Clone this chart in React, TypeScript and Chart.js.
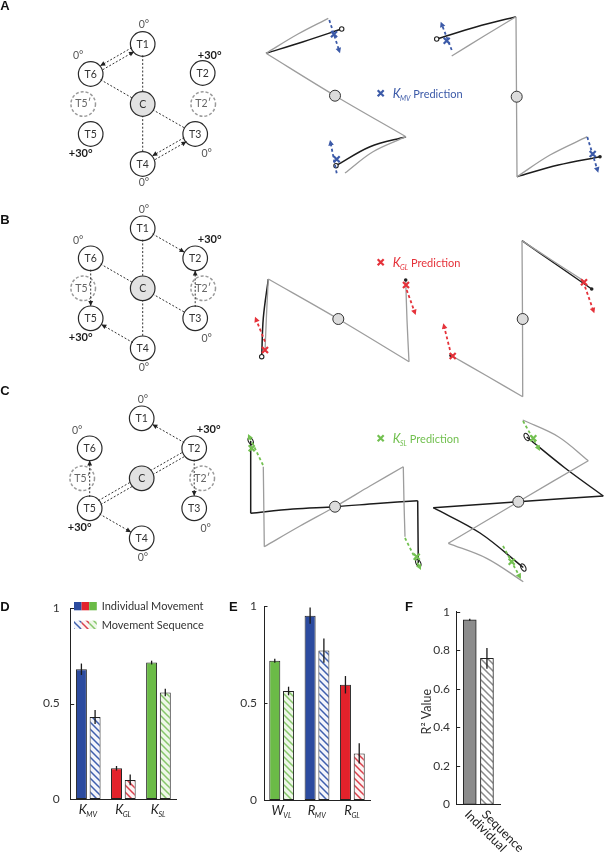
import React, { useEffect, useRef } from 'react';
import { Chart, registerables } from 'chart.js';

Chart.register(...registerables);

type Pt = [number, number];

// ================= Panels D, E, F (bar data) =================
const dLetters = ['K', 'K', 'K'];
const dSubs = ['MV', 'GL', 'SL'];
const dIndividual = [0.68, 0.161, 0.715];
const dIndividualErr = [0.03, 0.012, 0.01];
const dSequence = [0.43, 0.1, 0.558];
const dSequenceErr = [0.037, 0.028, 0.02];

const eLetters = ['W', 'R', 'R'];
const eSubs = ['VL', 'MV', 'GL'];
const eIndividual = [0.718, 0.95, 0.594];
const eIndividualErr = [0.01, 0.042, 0.045];
const eSequence = [0.562, 0.77, 0.24];
const eSequenceErr = [0.022, 0.062, 0.052];

const fLabels = ['Individual', 'Sequence'];
const fValues = [0.958, 0.758];
const fErr = [0.005, 0.054];

const deTicks = [0, 0.5, 1];
const fTicks = [0, 0.2, 0.4, 0.6, 0.8, 1];

const legendLabels = ['Individual Movement', 'Movement Sequence'];

// ================= Panels A–C (diagram data, figure units, y downward) =================
const diagramCentres: Pt[] = [[142.7, 104], [142.7, 288.3], [141.7, 478.3]];
const targetIds = ['T1', 'T2', 'T3', 'T4', 'T5', 'T6'];
const targetDx = [0, 52.5, 52.5, 0, -52, -52];
const targetDy = [-60, -30, 30, 60, 30, -30];
const panelAT2Shift: Pt = [7.5, -1];
const ghostIds = ['T5′', 'T2′'];
const ghostDx = [-59.5, 60.5];
const targetRadius = 12.3;
const degreeText = ['0°', '0°', '+30°', '+30°', '0°', '0°'];
const degreeDx = [1.3, -64.5, 67, -62, 64, 1.3];
const degreeDy = [-79, -48, -48.5, 49.5, 50, 79];

const linksA: [string, string, string][] = [
  ['T1', 'C', 'dot'], ['C', 'T4', 'dot'], ['T6', 'C', 'dot'], ['C', 'T3', 'dot'],
  ['T1', 'T6', 'double'], ['T3', 'T4', 'double'],
];
const linksB: [string, string, string][] = [
  ['T1', 'C', 'dot'], ['C', 'T4', 'dot'], ['T6', 'C', 'dot'], ['C', 'T3', 'dot'],
  ['T1', 'T2', 'arrow'], ['T3', 'T2', 'arrow'], ['T6', 'T5', 'arrow'], ['T4', 'T5', 'arrow'],
];
const linksC: [string, string, string][] = [
  ['T5', 'C', 'twin'], ['C', 'T2', 'twin'],
  ['T2', 'T1', 'arrow'], ['T2', 'T3', 'arrow'], ['T5', 'T6', 'arrow'], ['T5', 'T4', 'arrow'],
];
const panelLinks = [linksA, linksB, linksC];

// trajectories (hand-path samples)
const greyPaths: Pt[][] = [
  // row A
  [[266, 53.3], [335, 95.7], [406, 136.7]],
  [[266, 53.3], [298, 34], [328.3, 18.3]],
  [[406, 136.7], [373, 151.7], [345, 173]],
  [[516, 16.7], [516.5, 96.7], [517, 176.7]],
  [[516, 16.7], [483.7, 36.3], [451.7, 56]],
  [[517, 176.7], [550, 155], [587.3, 136.7]],
  // row B
  [[268.3, 279], [338.3, 319], [409, 361.7]],
  [[268.3, 279], [266.5, 315], [265, 351.7]],
  [[409, 361.7], [407, 320], [405.7, 280]],
  [[522, 240.7], [522.5, 319], [522.7, 396.7]],
  [[522, 240.7], [553, 261], [584, 281]],
  [[522.7, 396.7], [487, 376], [451.7, 355.7]],
  // row C
  [[263.3, 466.7], [263.8, 507], [264.3, 546.7]],
  [[264.3, 546.7], [300, 526], [335, 506.7], [370, 486], [403.3, 466.7]],
  [[403.3, 466.7], [404, 502], [405, 536.7]],
  [[522.7, 420], [558.3, 436.7], [588.3, 460.7]],
  [[588.3, 460.7], [518.3, 501.7], [448.3, 543.3]],
  [[448.3, 543.3], [486.7, 558.3], [523.3, 581.7]],
];
const blackPaths: Pt[][] = [
  // row A
  [[266, 53.3], [303.3, 41.7], [341.7, 29]],
  [[406, 136.7], [370, 146.7], [336, 165.7]],
  [[516, 16.7], [476.7, 26.7], [436.7, 39]],
  [[517, 176.7], [558.3, 165], [600, 156.7]],
  // row B
  [[268.3, 279], [263.3, 318], [261.7, 356.7]],
  [[522, 240.7], [557, 265], [591.7, 289]],
  // row C
  [[250.7, 441], [250.7, 477], [250.7, 513.3]],
  [[250.7, 513.3], [293, 509], [335, 506.7], [377, 503.5], [417.7, 500.7]],
  [[417.7, 500.7], [418, 532], [418.3, 563]],
  [[603.3, 496], [565, 468], [526.7, 437]],
  [[603.3, 496], [518.3, 501.7], [433.3, 507.7]],
  [[433.3, 507.7], [480, 533], [523.3, 567.5]],
];
const trajCentres: Pt[] = [[335, 95.7], [516.7, 96.7], [338.3, 319], [522.7, 319], [335, 506.7], [518.3, 501.7]];
const openEnds: Pt[] = [[341.7, 29], [336, 165.7], [436.7, 39], [261.7, 356.7]];
const ellipseEnds: Pt[] = [[250.7, 441], [418.3, 563], [526.7, 437], [523.3, 567.5]];
const filledEnds: Pt[] = [[600, 156.7], [591.7, 289], [451, 355.5], [405.7, 280]];

const blueArrows: Pt[][] = [[[329.3, 20], [340, 53.3]], [[336.7, 173.3], [330, 140]], [[451.7, 50], [440.7, 21.7]], [[587.3, 137], [598.3, 172.7]]];
const blueCrosses: Pt[] = [[334, 34.3], [336.7, 159.3], [446.7, 40.7], [592.7, 154]];
const redArrows: Pt[][] = [[[265, 341.7], [255, 316.7]], [[406.7, 290], [415.7, 315]], [[585, 286.7], [594.3, 313.3]], [[450, 350], [443.3, 323.3]]];
const redCrosses: Pt[] = [[265, 350], [406, 285], [584, 282.3], [452.7, 356]];
const greenArrows: Pt[][] = [[[263, 465], [248, 434]], [[405, 538], [421, 570]], [[523, 421], [540, 451]], [[503, 546], [521, 579]]];
const greenCrosses: Pt[] = [[251.7, 448.3], [416.7, 556.7], [533.3, 438.3], [511.7, 561.7]];

const predictionSubs = ['MV', 'GL', 'SL'];
const predictionAnchors: Pt[] = [[380.7, 93.3], [380.7, 262.3], [380.7, 438.3]];

const panelLetterTop = ['A', 'B', 'C'];
const panelLetterTopPos: Pt[] = [[5, 6], [5, 220], [5, 391]];

// ================= Styles =================
const FONT = 'Lato, "Open Sans", sans-serif';
const LETTER_FONT = 'bold 13px "Liberation Sans", Arial, sans-serif';
const BLUE = '#2c4b9f';
const RED = '#e3222b';
const GREEN = '#6bbb47';
const GREY = '#8c8c8c';
const PRED_BLUE = '#3c5aa8';
const PRED_RED = '#e5323a';
const PRED_GREEN = '#72c050';

const hatchStroke: Record<string, string> = { [BLUE]: '#3f5fae', [RED]: '#d9404c', [GREEN]: '#86c66a', [GREY]: '#8a8a8a' };
const hatchBg: Record<string, string> = { [BLUE]: '#f3f5fb', [RED]: '#fdf3f3', [GREEN]: '#eef7e8', [GREY]: '#ffffff' };

function hatch(color: string): CanvasPattern {
  const s = 7;
  const c = document.createElement('canvas');
  c.width = s;
  c.height = s;
  const g = c.getContext('2d')!;
  g.fillStyle = hatchBg[color];
  g.fillRect(0, 0, s, s);
  g.strokeStyle = hatchStroke[color];
  g.lineWidth = 1.5;
  g.beginPath();
  g.moveTo(-2, -2); g.lineTo(s + 2, s + 2);
  g.moveTo(-2, s - 2); g.lineTo(2, s + 2);
  g.moveTo(s - 2, -2); g.lineTo(s + 2, 2);
  g.stroke();
  return g.createPattern(c, 'repeat')!;
}

function drawSubText(ctx: CanvasRenderingContext2D, x: number, y: number, main: string, sub: string, color: string, size: number, align: string) {
  ctx.save();
  ctx.font = `italic ${size}px ${FONT}`;
  const wm = ctx.measureText(main).width;
  const subSize = size * 0.56;
  ctx.font = `italic ${subSize}px ${FONT}`;
  const ws = ctx.measureText(sub).width;
  const x0 = align === 'center' ? x - (wm + ws) / 2 : x;
  ctx.fillStyle = color;
  ctx.textAlign = 'left';
  ctx.textBaseline = 'alphabetic';
  ctx.font = `italic ${size}px ${FONT}`;
  ctx.fillText(main, x0, y);
  ctx.font = `italic ${subSize}px ${FONT}`;
  ctx.fillText(sub, x0 + wm - 0.5, y + size * 0.22);
  ctx.restore();
  return x0 + wm + ws;
}

function drawCross(ctx: CanvasRenderingContext2D, x: number, y: number, color: string, s = 3) {
  ctx.save();
  ctx.strokeStyle = color;
  ctx.lineWidth = 2.2;
  ctx.setLineDash([]);
  ctx.beginPath();
  ctx.moveTo(x - s, y - s); ctx.lineTo(x + s, y + s);
  ctx.moveTo(x - s, y + s); ctx.lineTo(x + s, y - s);
  ctx.stroke();
  ctx.restore();
}

function arrowHead(ctx: CanvasRenderingContext2D, tx: number, ty: number, ux: number, uy: number, color: string, len = 5, half = 2.4) {
  const nx = -uy, ny = ux;
  ctx.save();
  ctx.setLineDash([]);
  ctx.fillStyle = color;
  ctx.beginPath();
  ctx.moveTo(tx, ty);
  ctx.lineTo(tx - ux * len + nx * half, ty - uy * len + ny * half);
  ctx.lineTo(tx - ux * len - nx * half, ty - uy * len - ny * half);
  ctx.closePath();
  ctx.fill();
  ctx.restore();
}

// ================= Top diagram plugin =================
const diagramPlugin = {
  id: 'diagram',
  afterDatasetsDraw(chart: any) {
    const ctx: CanvasRenderingContext2D = chart.ctx;
    const sx = chart.scales.x, sy = chart.scales.y;
    const P = (p: Pt): Pt => [sx.getPixelForValue(p[0]), sy.getPixelForValue(p[1])];
    const L = (d: number) => Math.abs(sx.getPixelForValue(d) - sx.getPixelForValue(0));
    const r = L(targetRadius);

    diagramCentres.forEach((c, k) => {
      const pos: Record<string, Pt> = { C: c };
      targetIds.forEach((id, i) => { pos[id] = [c[0] + targetDx[i], c[1] + targetDy[i]]; });
      if (k === 0) pos.T2 = [pos.T2[0] + panelAT2Shift[0], pos.T2[1] + panelAT2Shift[1]];
      ghostIds.forEach((id, i) => { pos[id] = [c[0] + ghostDx[i], c[1]]; });

      // ghost targets
      ghostIds.forEach((id) => {
        const [px, py] = P(pos[id]);
        ctx.save();
        ctx.setLineDash([3, 2]);
        ctx.strokeStyle = '#9a9a9a';
        ctx.lineWidth = 1.5;
        ctx.beginPath();
        ctx.arc(px, py, r, 0, Math.PI * 2);
        ctx.stroke();
        ctx.setLineDash([]);
        ctx.fillStyle = '#666';
        ctx.font = `10.5px ${FONT}`;
        ctx.textAlign = 'center';
        ctx.textBaseline = 'middle';
        ctx.fillText(id, px, py);
        ctx.restore();
      });

      // links
      panelLinks[k].forEach(([a, b, kind]) => {
        const [ax, ay] = P(pos[a]);
        const [bx, by] = P(pos[b]);
        const dx = bx - ax, dy = by - ay, len = Math.hypot(dx, dy);
        const ux = dx / len, uy = dy / len, nx = -uy, ny = ux;
        const sxp = ax + ux * r * 0.92, syp = ay + uy * r * 0.92;
        const exp = bx - ux * r, eyp = by - uy * r;
        ctx.save();
        ctx.strokeStyle = '#333';
        ctx.lineWidth = 1;
        ctx.setLineDash([2, 1.8]);
        const seg = (x1: number, y1: number, x2: number, y2: number) => {
          ctx.beginPath(); ctx.moveTo(x1, y1); ctx.lineTo(x2, y2); ctx.stroke();
        };
        if (kind === 'dot' || kind === 'arrow') {
          seg(sxp, syp, exp, eyp);
          if (kind === 'arrow') arrowHead(ctx, exp, eyp, ux, uy, '#222');
        } else {
          const o = 2.3;
          seg(sxp + nx * o, syp + ny * o, exp + nx * o, eyp + ny * o);
          seg(sxp - nx * o, syp - ny * o, exp - nx * o, eyp - ny * o);
          if (kind === 'double') {
            arrowHead(ctx, exp + nx * o, eyp + ny * o, ux, uy, '#222');
            arrowHead(ctx, sxp - nx * o, syp - ny * o, -ux, -uy, '#222');
          }
        }
        ctx.restore();
      });

      // targets
      ['C', ...targetIds].forEach((id) => {
        const [px, py] = P(pos[id]);
        ctx.save();
        ctx.setLineDash([]);
        ctx.fillStyle = id === 'C' ? '#e2e2e2' : 'rgba(255,255,255,0)';
        ctx.strokeStyle = '#2a2a2a';
        ctx.lineWidth = 1.2;
        ctx.beginPath();
        ctx.arc(px, py, r, 0, Math.PI * 2);
        ctx.fill();
        ctx.stroke();
        ctx.fillStyle = '#333';
        ctx.font = `10.5px ${FONT}`;
        ctx.textAlign = 'center';
        ctx.textBaseline = 'middle';
        ctx.fillText(id, px, py + 0.5);
        ctx.restore();
      });

      // degree labels
      degreeText.forEach((t, i) => {
        const [px, py] = P([c[0] + degreeDx[i], c[1] + degreeDy[i]]);
        const bold = t.startsWith('+');
        ctx.save();
        ctx.fillStyle = bold ? '#1a1a1a' : '#555';
        ctx.font = bold ? `bold 11px ${FONT}` : `10.5px ${FONT}`;
        ctx.textAlign = 'center';
        ctx.textBaseline = 'middle';
        ctx.fillText(t, px, py);
        ctx.restore();
      });
    });

    // trajectory centres
    trajCentres.forEach((p) => {
      const [px, py] = P(p);
      ctx.save();
      ctx.fillStyle = '#dcdcdc';
      ctx.strokeStyle = '#333';
      ctx.lineWidth = 1;
      ctx.beginPath();
      ctx.arc(px, py, L(5.5), 0, Math.PI * 2);
      ctx.fill();
      ctx.stroke();
      ctx.restore();
    });
    openEnds.forEach((p) => {
      const [px, py] = P(p);
      ctx.save();
      ctx.strokeStyle = '#222';
      ctx.fillStyle = '#fff';
      ctx.lineWidth = 1.1;
      ctx.beginPath();
      ctx.arc(px, py, L(2.2), 0, Math.PI * 2);
      ctx.fill();
      ctx.stroke();
      ctx.restore();
    });
    ellipseEnds.forEach((p) => {
      const [px, py] = P(p);
      ctx.save();
      ctx.strokeStyle = '#222';
      ctx.lineWidth = 1.1;
      ctx.beginPath();
      ctx.ellipse(px, py, L(2.3), L(4), -0.5, 0, Math.PI * 2);
      ctx.stroke();
      ctx.restore();
    });
    filledEnds.forEach((p) => {
      const [px, py] = P(p);
      ctx.save();
      ctx.fillStyle = '#222';
      ctx.beginPath();
      ctx.arc(px, py, L(1.8), 0, Math.PI * 2);
      ctx.fill();
      ctx.restore();
    });

    const drawPred = (arrows: Pt[][], crosses: Pt[], color: string) => {
      arrows.forEach(([a, b]) => {
        const [ax, ay] = P(a);
        const [bx, by] = P(b);
        const len = Math.hypot(bx - ax, by - ay);
        const ux = (bx - ax) / len, uy = (by - ay) / len;
        ctx.save();
        ctx.strokeStyle = color;
        ctx.lineWidth = 1.8;
        ctx.setLineDash([3, 2.5]);
        ctx.beginPath();
        ctx.moveTo(ax, ay);
        ctx.lineTo(bx - ux * 3, by - uy * 3);
        ctx.stroke();
        ctx.restore();
        arrowHead(ctx, bx, by, ux, uy, color, 5.5, 2.8);
      });
      crosses.forEach((p) => {
        const [px, py] = P(p);
        drawCross(ctx, px, py, color, 3);
      });
    };
    drawPred(blueArrows, blueCrosses, PRED_BLUE);
    drawPred(redArrows, redCrosses, PRED_RED);
    drawPred(greenArrows, greenCrosses, PRED_GREEN);

    // prediction legends
    const predColors = [PRED_BLUE, PRED_RED, PRED_GREEN];
    predictionAnchors.forEach((a, i) => {
      const [px, py] = P(a);
      drawCross(ctx, px, py, predColors[i], 3);
      const end = drawSubText(ctx, px + 12, py + 4.5, 'K', predictionSubs[i], predColors[i], 12.5, 'left');
      ctx.save();
      ctx.fillStyle = predColors[i];
      ctx.font = `11px ${FONT}`;
      ctx.textAlign = 'left';
      ctx.textBaseline = 'alphabetic';
      ctx.fillText('Prediction', end + 2.5, py + 4.5);
      ctx.restore();
    });

    // panel letters
    panelLetterTop.forEach((t, i) => {
      const [px, py] = P(panelLetterTopPos[i]);
      ctx.save();
      ctx.fillStyle = '#111';
      ctx.font = LETTER_FONT;
      ctx.textAlign = 'center';
      ctx.textBaseline = 'middle';
      ctx.fillText(t, px, py);
      ctx.restore();
    });
  },
};

function buildTop(): any {
  const lineDs = (pts: Pt[], color: string, width: number) => ({
    data: pts.map(([x, y]) => ({ x, y })),
    showLine: true,
    borderColor: color,
    borderWidth: width,
    pointRadius: 0,
    tension: 0.35,
    fill: false,
  });
  return {
    type: 'scatter',
    data: {
      datasets: [
        ...greyPaths.map((p) => lineDs(p, '#9d9d9d', 1.3)),
        ...blackPaths.map((p) => lineDs(p, '#1c1c1c', 1.5)),
      ],
    },
    options: {
      animation: false,
      responsive: false,
      devicePixelRatio: 1,
      events: [],
      layout: { padding: 0 },
      plugins: { legend: { display: false }, tooltip: { enabled: false } },
      scales: {
        x: { type: 'linear', display: false, min: 0, max: 604 },
        y: { type: 'linear', display: false, min: 0, max: 590, reverse: true },
      },
    },
    plugins: [diagramPlugin],
  };
}

// ================= Bar chart helpers =================
const errorBars = {
  id: 'errorBars',
  afterDatasetsDraw(chart: any) {
    const ctx: CanvasRenderingContext2D = chart.ctx;
    const ys = chart.scales.y;
    chart.data.datasets.forEach((ds: any, i: number) => {
      if (!ds.errors) return;
      const meta = chart.getDatasetMeta(i);
      meta.data.forEach((bar: any, j: number) => {
        const raw = ds.data[j];
        const v = typeof raw === 'number' ? raw : raw.y;
        const e = ds.errors[j];
        ctx.save();
        ctx.strokeStyle = '#1a1a1a';
        ctx.lineWidth = 1.3;
        ctx.beginPath();
        ctx.moveTo(bar.x, ys.getPixelForValue(v + e));
        ctx.lineTo(bar.x, ys.getPixelForValue(v - e));
        ctx.stroke();
        ctx.restore();
      });
    });
  },
};

const innerTicks = {
  id: 'innerTicks',
  afterDraw(chart: any) {
    const ctx: CanvasRenderingContext2D = chart.ctx;
    const ys = chart.scales.y;
    const left = chart.chartArea.left;
    ctx.save();
    ctx.strokeStyle = '#222';
    ctx.lineWidth = 1;
    ys.ticks.forEach((t: any) => {
      const py = Math.round(ys.getPixelForValue(t.value)) + 0.5;
      ctx.beginPath();
      ctx.moveTo(left, py);
      ctx.lineTo(left + 3.5, py);
      ctx.stroke();
    });
    ctx.restore();
  },
};

function letterPlugin(letter: string, x: number, y: number) {
  return {
    id: 'letter' + letter,
    afterDraw(chart: any) {
      const ctx: CanvasRenderingContext2D = chart.ctx;
      ctx.save();
      ctx.fillStyle = '#111';
      ctx.font = LETTER_FONT;
      ctx.textAlign = 'center';
      ctx.textBaseline = 'middle';
      ctx.fillText(letter, x, y);
      ctx.restore();
    },
  };
}

function catLabelPlugin(letters: string[], subs: string[]) {
  return {
    id: 'catLabels',
    afterDraw(chart: any) {
      const ctx: CanvasRenderingContext2D = chart.ctx;
      const xs = chart.scales.x;
      const b = chart.chartArea.bottom;
      letters.forEach((l, i) => {
        drawSubText(ctx, xs.getPixelForValue(i), b + 15, l, subs[i], '#222', 13, 'center');
      });
    },
  };
}

function groupedBarConfig(o: any): any {
  return {
    type: 'bar',
    data: {
      labels: o.subs,
      datasets: [
        {
          label: legendLabels[0], data: o.individual, errors: o.individualErr,
          backgroundColor: o.colors, borderColor: '#222', borderWidth: 1, borderSkipped: false,
          categoryPercentage: 0.78, barPercentage: 0.8,
        },
        {
          label: legendLabels[1], data: o.sequence, errors: o.sequenceErr,
          backgroundColor: o.colors.map((c: string) => hatch(c)), borderColor: '#222', borderWidth: 1, borderSkipped: false,
          categoryPercentage: 0.78, barPercentage: 0.8,
        },
      ],
    },
    options: {
      animation: false,
      responsive: false,
      devicePixelRatio: 1,
      events: [],
      layout: { padding: { top: o.padTop, right: o.padRight, left: 0, bottom: 0 } },
      plugins: { legend: { display: false }, tooltip: { enabled: false } },
      scales: {
        x: {
          grid: { display: false, drawTicks: false },
          border: { display: true, color: '#222', width: 1 },
          ticks: { display: false },
          afterFit: (s: any) => { s.height = o.xHeight; },
        },
        y: {
          min: 0, max: 1,
          afterBuildTicks: (s: any) => { s.ticks = deTicks.map((v) => ({ value: v })); },
          grid: { display: false, drawTicks: false },
          border: { display: true, color: '#222', width: 1 },
          ticks: { padding: o.tickPad, color: '#333', font: { family: FONT, size: 12 }, callback: (v: any) => String(v) },
          afterFit: (s: any) => { s.width = o.yWidth; },
        },
      },
    },
    plugins: [errorBars, innerTicks, catLabelPlugin(o.letters, o.subs), letterPlugin(o.letter, o.letterX, o.letterY), ...(o.extra || [])],
  };
}

const legendPlugin = {
  id: 'dLegend',
  afterDraw(chart: any) {
    const ctx: CanvasRenderingContext2D = chart.ctx;
    const colors = [BLUE, RED, GREEN];
    const rows = [12, 30.7];
    rows.forEach((ry, row) => {
      colors.forEach((c, i) => {
        ctx.save();
        ctx.fillStyle = row === 0 ? c : hatch(c);
        ctx.fillRect(74 + i * 7.6, ry, 7.6, 8.3);
        ctx.restore();
      });
      ctx.save();
      ctx.fillStyle = '#333';
      ctx.font = `11px ${FONT}`;
      ctx.textAlign = 'left';
      ctx.textBaseline = 'middle';
      ctx.fillText(legendLabels[row], 101.7, ry + 4.6);
      ctx.restore();
    });
  },
};

function buildD(): any {
  return groupedBarConfig({
    subs: dSubs, letters: dLetters, individual: dIndividual, individualErr: dIndividualErr,
    sequence: dSequence, sequenceErr: dSequenceErr, colors: [BLUE, RED, GREEN],
    padTop: 15, padRight: 39, xHeight: 53, yWidth: 70.7, tickPad: 11,
    letter: 'D', letterX: 5, letterY: 17, extra: [legendPlugin],
  });
}

function buildE(): any {
  return groupedBarConfig({
    subs: eSubs, letters: eLetters, individual: eIndividual, individualErr: eIndividualErr,
    sequence: eSequence, sequenceErr: eSequenceErr, colors: [GREEN, BLUE, RED],
    padTop: 16, padRight: 35, xHeight: 52, yWidth: 49, tickPad: 7,
    letter: 'E', letterX: 18.3, letterY: 17,
  });
}

const fExtras = {
  id: 'fExtras',
  afterDraw(chart: any) {
    const ctx: CanvasRenderingContext2D = chart.ctx;
    const xs = chart.scales.x;
    const b = chart.chartArea.bottom;
    fLabels.forEach((t, i) => {
      const x = xs.getPixelForValue(i);
      ctx.save();
      ctx.translate(x - 3, b + 8);
      ctx.rotate(Math.PI / 4);
      ctx.font = `12.5px ${FONT}`;
      ctx.fillStyle = '#222';
      ctx.textAlign = 'left';
      ctx.textBaseline = 'middle';
      ctx.fillText(t, 0, 0);
      ctx.restore();
    });
    ctx.save();
    ctx.translate(22, 121.7);
    ctx.rotate(-Math.PI / 2);
    ctx.font = `12.5px ${FONT}`;
    ctx.fillStyle = '#333';
    ctx.textAlign = 'center';
    ctx.textBaseline = 'middle';
    ctx.fillText('R² Value', 0, 0);
    ctx.restore();
  },
};

function buildF(): any {
  return {
    type: 'bar',
    data: {
      datasets: [
        {
          data: fValues.map((v, i) => ({ x: i, y: v })),
          errors: fErr,
          backgroundColor: [GREY, hatch(GREY)],
          borderColor: '#222', borderWidth: 1, borderSkipped: false,
          barThickness: 13,
        },
      ],
    },
    options: {
      animation: false,
      responsive: false,
      devicePixelRatio: 1,
      events: [],
      layout: { padding: { top: 21.7, right: 104, left: 0, bottom: 0 } },
      plugins: { legend: { display: false }, tooltip: { enabled: false } },
      scales: {
        x: {
          type: 'linear', min: -0.76, max: 1.76, offset: false,
          grid: { display: false, drawTicks: false },
          border: { display: true, color: '#222', width: 1 },
          ticks: { display: false },
          afterFit: (s: any) => { s.height = 47.7; },
        },
        y: {
          min: 0, max: 1,
          afterBuildTicks: (s: any) => { s.ticks = fTicks.map((v) => ({ value: v })); },
          grid: { display: false, drawTicks: false },
          border: { display: true, color: '#222', width: 1 },
          ticks: { padding: 6.7, color: '#333', font: { family: FONT, size: 12 }, callback: (v: any) => String(v) },
          afterFit: (s: any) => { s.width = 51.7; },
        },
      },
    },
    plugins: [errorBars, innerTicks, fExtras, letterPlugin('F', 4, 17)],
  };
}

function ChartCanvas({ left, top, width, height, build }: any) {
  const ref = useRef<HTMLCanvasElement>(null);
  useEffect(() => {
    const chart = new Chart(ref.current as HTMLCanvasElement, build());
    return () => chart.destroy();
  }, []);
  return (
    <canvas
      ref={ref}
      width={width}
      height={height}
      style={{ position: 'absolute', left, top, width, height }}
    />
  );
}

export default function App() {
  return (
    <div style={{ position: 'absolute', left: 0, top: 0, width: 604, height: 852, background: '#fff', overflow: 'hidden' }}>
      <ChartCanvas left={0} top={0} width={604} height={590} build={buildTop} />
      <ChartCanvas left={0} top={590} width={215} height={262} build={buildD} />
      <ChartCanvas left={215} top={590} width={190} height={262} build={buildE} />
      <ChartCanvas left={405} top={590} width={199} height={262} build={buildF} />
    </div>
  );
}
